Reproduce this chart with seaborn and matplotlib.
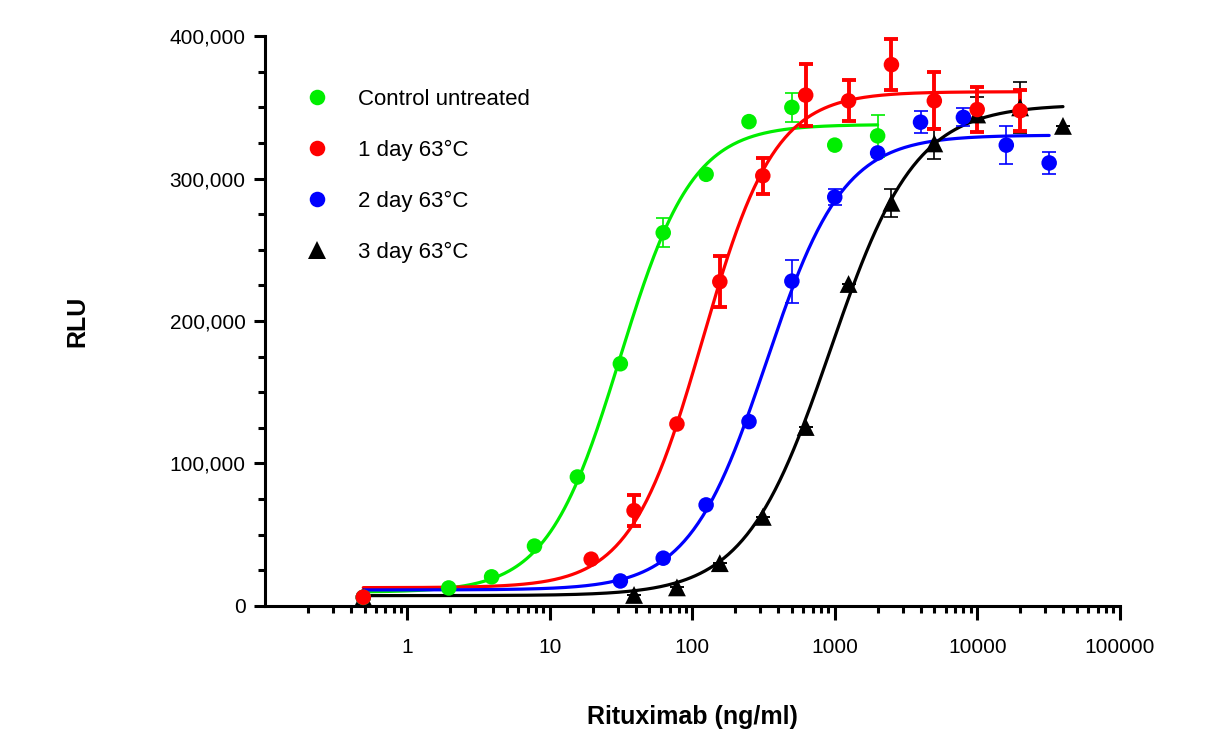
import numpy as np
import pandas as pd
import matplotlib
matplotlib.use('Agg')
import matplotlib.pyplot as plt
import matplotlib.ticker as mticker
import seaborn as sns

# groups and colours
groups = ['Control untreated', '1 day 63°C', '2 day 63°C', '3 day 63°C']
colors = ['#00ee00', '#ff0000', '#0000ff', '#000000']
markers = ['o', 'o', 'o', '^']
sizes = [125, 125, 125, 165]

# doses (ng/ml)
dose_ctrl = [0.49, 1.95, 3.9, 7.8, 15.6, 31.25, 62.5, 125, 250, 500, 1000, 2000]
dose_d1 = [0.49, 19.5, 39, 78, 156, 312.5, 625, 1250, 2500, 5000, 10000, 20000]
dose_d2 = [0.49, 31.25, 62.5, 125, 250, 500, 1000, 2000, 4000, 8000, 16000, 32000]
dose_d3 = [0.49, 39, 78, 156, 312.5, 625, 1250, 2500, 5000, 10000, 20000, 40000]

# mean RLU
rlu_ctrl = [6000, 12600, 20400, 42000, 90500, 170000, 262000, 303000, 340000, 350000, 323500, 330000]
rlu_d1 = [6100, 32800, 66900, 127700, 227600, 302000, 358600, 354600, 380000, 354600, 348500, 347600]
rlu_d2 = [6000, 17500, 33500, 70900, 129400, 228000, 287000, 318000, 339600, 343000, 323500, 311000]
rlu_d3 = [6000, 7700, 13000, 30000, 62500, 125600, 226000, 283000, 324700, 345000, 350000, 337000]

# error (SD)
err_ctrl = [0, 0, 0, 0, 0, 0, 10000, 0, 0, 10000, 0, 14500]
err_d1 = [0, 0, 11000, 0, 18000, 12500, 22000, 14500, 18000, 20000, 15700, 14500]
err_d2 = [0, 0, 0, 0, 0, 15000, 5600, 0, 7700, 6300, 13400, 7500]
err_d3 = [0, 0, 0, 0, 0, 0, 0, 10000, 11000, 12000, 18000, 0]

# 4PL fit parameters (bottom, top, EC50, hill)
fit_bottom = [9600, 12800, 11200, 7200]
fit_top = [338000, 361000, 330500, 352000]
fit_ec50 = [31, 118, 330, 930]
fit_hill = [1.7, 1.71, 1.6, 1.45]

doses = [dose_ctrl, dose_d1, dose_d2, dose_d3]
rlus = [rlu_ctrl, rlu_d1, rlu_d2, rlu_d3]
errs = [err_ctrl, err_d1, err_d2, err_d3]

# build tables
pts = []
curves = []
for i, g in enumerate(groups):
    pts.append(pd.DataFrame({'dose': doses[i], 'rlu': rlus[i], 'err': errs[i], 'group': g}))
    xs = np.logspace(np.log10(min(doses[i])), np.log10(max(doses[i])), 300)
    ys = fit_bottom[i] + (fit_top[i] - fit_bottom[i]) / (1 + (fit_ec50[i] / xs) ** fit_hill[i])
    curves.append(pd.DataFrame({'dose': xs, 'rlu': ys, 'group': g}))
# drawing order: black, blue, green, red on top
draw_order = [3, 2, 0, 1]
pts_df = pd.concat([pts[i] for i in draw_order], ignore_index=True)
curve_df = pd.concat(curves, ignore_index=True)

sns.set_style('ticks', {'axes.edgecolor': 'black', 'text.color': 'black', 'axes.labelcolor': 'black',
                        'xtick.color': 'black', 'ytick.color': 'black'})
plt.rcParams['font.family'] = ['Liberation Sans', 'DejaVu Sans']

fig, ax = plt.subplots(figsize=(12.21, 7.38), dpi=100)
fig.subplots_adjust(left=0.217, right=0.917, bottom=0.179, top=0.951)

palette = dict(zip(groups, colors))
sns.lineplot(data=curve_df, x='dose', y='rlu', hue='group', hue_order=groups, palette=palette,
             linewidth=2.3, legend=False, ax=ax, zorder=2)

for i in draw_order:
    lw = 2.8 if i == 1 else 1.2
    ax.errorbar(doses[i], rlus[i], yerr=errs[i], fmt='none', ecolor=colors[i],
                elinewidth=lw, capsize=5, capthick=lw, zorder=3)

sns.scatterplot(data=pts_df, x='dose', y='rlu', hue='group', style='group', size='group',
                hue_order=groups, style_order=groups, size_order=groups, palette=palette,
                markers=dict(zip(groups, markers)), sizes=dict(zip(groups, sizes)),
                linewidth=0, ax=ax, zorder=4)

ax.set_xscale('log')
ax.set_xlim(0.1, 100000)
ax.set_ylim(0, 400000)
ax.xaxis.set_major_locator(mticker.FixedLocator([1, 10, 100, 1000, 10000, 100000]))
ax.xaxis.set_minor_locator(mticker.LogLocator(base=10, subs=np.arange(2, 10)))
ax.xaxis.set_major_formatter(mticker.FuncFormatter(lambda v, p: f'{v:.0f}'))
ax.xaxis.set_minor_formatter(mticker.NullFormatter())
ax.yaxis.set_major_locator(mticker.MultipleLocator(100000))
ax.yaxis.set_minor_locator(mticker.MultipleLocator(25000))
ax.yaxis.set_major_formatter(mticker.FuncFormatter(lambda v, p: f'{v:,.0f}'))

sns.despine(ax=ax)
for s in ['left', 'bottom']:
    ax.spines[s].set_linewidth(2.2)
    ax.spines[s].set_color('black')
ax.tick_params(axis='x', which='major', length=10, width=2.2, labelsize=15, pad=13, colors='black')
ax.tick_params(axis='x', which='minor', length=5, width=2.2, colors='black')
ax.tick_params(axis='y', which='major', length=8, width=2.2, labelsize=15, pad=6, colors='black')
ax.tick_params(axis='y', which='minor', length=5, width=2.2, colors='black')

ax.set_xlabel('Rituximab (ng/ml)', fontsize=18, fontweight='bold', labelpad=35, color='black')
ax.set_ylabel('RLU', fontsize=18, fontweight='bold', labelpad=58, color='black')

leg = ax.legend(loc='upper left', bbox_to_anchor=(0.0245, 0.943), frameon=False, fontsize=16,
                handlelength=1.0, handletextpad=1.35, labelspacing=1.35)
for t in leg.get_texts():
    t.set_color('black')

plt.savefig('out.png', dpi=100)
